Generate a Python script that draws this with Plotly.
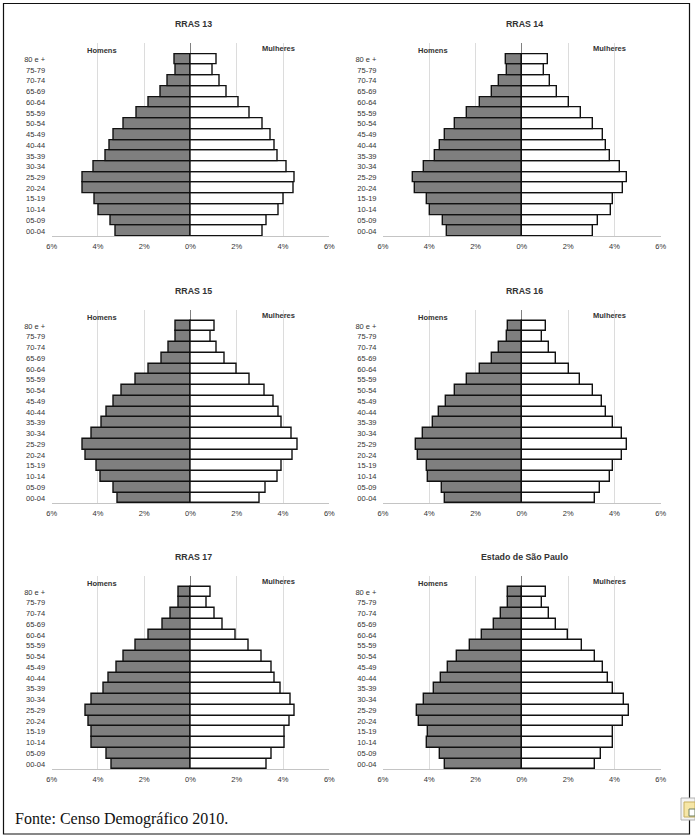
import plotly.graph_objects as go

ages = ["00-04","05-09","10-14","15-19","20-24","25-29","30-34","35-39","40-44","45-49","50-54","55-59","60-64","65-69","70-74","75-79","80 e +"]
titles = ["RRAS 13","RRAS 14","RRAS 15","RRAS 16","RRAS 17","Estado de São Paulo"]

# listed from 80 e + down to 00-04 (percent)
men_13 = [.68,.66,1.0,1.31,1.82,2.32,2.88,3.3,3.5,3.66,4.19,4.64,4.64,4.16,3.96,3.43,3.23]
wom_13 = [1.12,.94,1.27,1.56,2.07,2.54,3.11,3.47,3.62,3.75,4.16,4.52,4.45,4.05,3.8,3.3,3.14]
men_14 = [.68,.65,.98,1.3,1.83,2.35,2.91,3.3,3.52,3.75,4.25,4.71,4.61,4.11,3.99,3.41,3.23]
wom_14 = [1.12,.94,1.2,1.51,2.03,2.54,3.07,3.49,3.62,3.8,4.22,4.55,4.35,3.96,3.86,3.27,3.08]
men_15 = [.62,.62,.95,1.25,1.8,2.38,2.97,3.33,3.63,3.85,4.29,4.67,4.55,4.05,3.9,3.33,3.16]
wom_15 = [1.04,.88,1.15,1.46,1.99,2.58,3.2,3.59,3.8,3.95,4.37,4.64,4.42,3.95,3.78,3.23,3.01]
men_16 = [.62,.65,.98,1.31,1.79,2.35,2.91,3.27,3.57,3.83,4.28,4.58,4.48,4.08,4.05,3.47,3.3]
wom_16 = [1.04,.86,1.18,1.48,2.02,2.51,3.08,3.46,3.63,3.92,4.34,4.55,4.34,3.93,3.83,3.36,3.17]
men_17 = [.53,.53,.86,1.22,1.8,2.35,2.87,3.21,3.52,3.76,4.25,4.54,4.42,4.25,4.26,3.63,3.41]
wom_17 = [.88,.72,1.04,1.41,1.96,2.51,3.07,3.53,3.66,3.88,4.32,4.52,4.28,4.09,4.09,3.53,3.3]
men_sp = [.59,.59,.91,1.22,1.71,2.26,2.81,3.18,3.5,3.78,4.22,4.55,4.45,4.05,4.11,3.54,3.3]
wom_sp = [1.04,.86,1.17,1.48,2.0,2.58,3.14,3.5,3.72,3.96,4.41,4.64,4.39,3.95,3.95,3.4,3.18]
men = [men_13,men_14,men_15,men_16,men_17,men_sp]
wom = [wom_13,wom_14,wom_15,wom_16,wom_17,wom_sp]

tick_vals = [-6,-4,-2,0,2,4,6]
tick_text = ["6%","4%","2%","0%","2%","4%","6%"]

W, H = 695, 839
col_x = [(51.7,329.3),(383.0,660.7)]
row_y = [(43.3,236.3),(310.0,503.3),(576.0,769.3)]
FONT = "Liberation Sans"
INK = "#333333"
NONE = "rgba(0,0,0,0)"

fig = go.Figure()
layout = dict(width=W, height=H, margin=dict(l=0,r=0,t=0,b=0,pad=0,autoexpand=False), paper_bgcolor="white", plot_bgcolor="white",
              showlegend=False, barmode="overlay", bargap=0, shapes=[], annotations=[])

for i in range(6):
    c, r = i % 2, i // 2
    x0, x1 = col_x[c]; y0, y1 = row_y[r]
    n = i + 1
    xa, ya = f"x{'' if n==1 else n}", f"y{'' if n==1 else n}"
    xk, yk = f"xaxis{'' if n==1 else n}", f"yaxis{'' if n==1 else n}"
    m_vals = [-v for v in reversed(men[i])]
    w_vals = list(reversed(wom[i]))
    fig.add_trace(go.Bar(y=ages, x=m_vals, orientation="h", xaxis=xa, yaxis=ya,
                         marker=dict(color="#7f7f7f", line=dict(color="#111111", width=1.4))))
    fig.add_trace(go.Bar(y=ages, x=w_vals, orientation="h", xaxis=xa, yaxis=ya,
                         marker=dict(color="#ffffff", line=dict(color="#111111", width=1.4))))
    layout[xk] = dict(domain=[x0/W, x1/W], anchor=ya, range=[-6,6], tickmode="array", tickvals=tick_vals,
                      ticktext=tick_text, tickfont=dict(family=FONT,size=7.5,color=INK), showgrid=True,
                      gridcolor="#dcdcdc", gridwidth=1, zeroline=True, zerolinecolor="#808080", zerolinewidth=1.4,
                      showline=True, linecolor="#c4c4c4", linewidth=1, ticks="outside", ticklen=3, tickcolor=NONE, fixedrange=True)
    layout[yk] = dict(domain=[1-y1/H, 1-y0/H], anchor=xa, type="category", categoryorder="array", categoryarray=ages,
                      range=[-0.5,17.5], tickfont=dict(family=FONT,size=7.5,color=INK), showgrid=False,
                      zeroline=False, showline=False, ticks="outside", ticklen=4, tickcolor=NONE, fixedrange=True)
    cx = (x0+x1)/2 + 3
    layout["annotations"].append(dict(text=f"<b>{titles[i]}</b>", xref="paper", yref="paper", x=cx/W, y=1-(y0-19)/H,
                                      showarrow=False, xanchor="center", yanchor="middle",
                                      font=dict(family=FONT,size=8.8,color=INK)))
    layout["annotations"].append(dict(text="<b>Homens</b>", xref=xa, yref="paper", x=-3.82, y=1-(y0+7)/H,
                                      showarrow=False, xanchor="center", yanchor="middle",
                                      font=dict(family=FONT,size=7.5,color=INK)))
    layout["annotations"].append(dict(text="<b>Mulheres</b>", xref=xa, yref="paper", x=3.79, y=1-(y0+5)/H,
                                      showarrow=False, xanchor="center", yanchor="middle",
                                      font=dict(family=FONT,size=7.5,color=INK)))

layout["annotations"].append(dict(text="Fonte: Censo Demográfico 2010.", xref="paper", yref="paper", x=13/W, y=1-819/H,
                                  showarrow=False, xanchor="left", yanchor="middle",
                                  font=dict(family="Liberation Serif",size=16,color="#111111")))
# outer frame
layout["shapes"].append(dict(type="rect", xref="paper", yref="paper", x0=3.5/W, x1=689.5/W, y0=1-834/H, y1=1-3.5/H,
                             line=dict(color="#111111",width=1.2), fillcolor=NONE, layer="above"))
# clipboard icon
layout["shapes"].append(dict(type="rect", xref="paper", yref="paper", x0=681/W, x1=695/W, y0=1-820/H, y1=1-798/H,
                             line=dict(color="#b0b0b0",width=1), fillcolor="#f4f4f4", layer="above"))
layout["shapes"].append(dict(type="rect", xref="paper", yref="paper", x0=684/W, x1=695/W, y0=1-817/H, y1=1-802/H,
                             line=dict(color="#c8b060",width=1), fillcolor="#f6e6a6", layer="above"))
layout["shapes"].append(dict(type="rect", xref="paper", yref="paper", x0=689/W, x1=695/W, y0=1-816/H, y1=1-809/H,
                             line=dict(color="#708060",width=1), fillcolor="#ffffff", layer="above"))
fig.update_layout(**layout)
fig.write_html("out.html", post_script="document.body.style.margin='0';", config=dict(displayModeBar=False))
